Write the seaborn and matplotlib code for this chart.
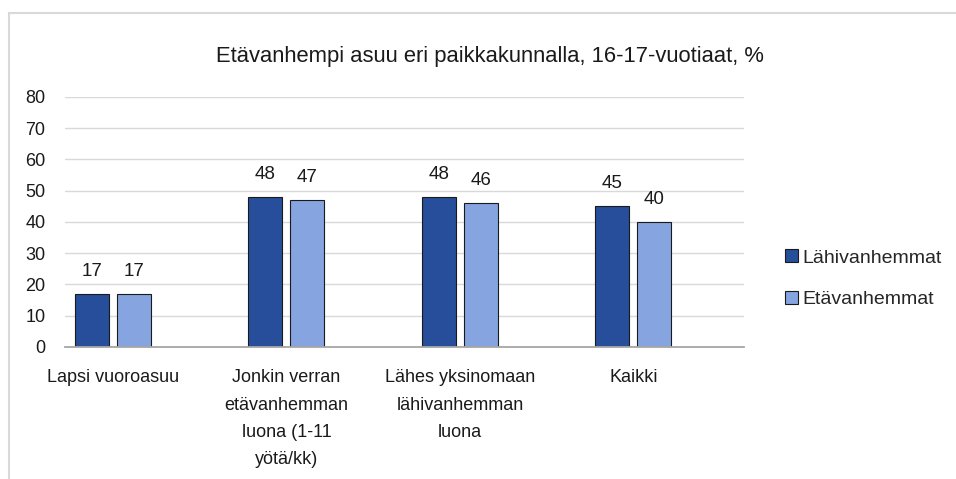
import matplotlib
matplotlib.use("Agg")
import matplotlib.pyplot as plt
from matplotlib.patches import Patch
from matplotlib.lines import Line2D
import seaborn as sns
import pandas as pd

categories = [
    "Lapsi vuoroasuu",
    "Jonkin verran\netävanhemman\nluona (1-11\nyötä/kk)",
    "Lähes yksinomaan\nlähivanhemman\nluona",
    "Kaikki",
]
lahivanhemmat = [17, 48, 48, 45]
etavanhemmat = [17, 47, 46, 40]
series_names = ["Lähivanhemmat", "Etävanhemmat"]
y_ticks = [0, 10, 20, 30, 40, 50, 60, 70, 80]
title = "Etävanhempi asuu eri paikkakunnalla, 16-17-vuotiaat, %"

colors = ["#264E9A", "#86A4DF"]

df = pd.DataFrame({"kategoria": categories,
                   series_names[0]: lahivanhemmat,
                   series_names[1]: etavanhemmat})
long_df = df.melt(id_vars="kategoria", var_name="sarja", value_name="arvo")

sns.set_style("white")
plt.rcParams["font.family"] = ["Liberation Sans", "DejaVu Sans"]

fig = plt.figure(figsize=(9.56, 4.79), dpi=100)
ax = fig.add_axes([0.068, 0.2756, 0.71, 0.522])

sns.barplot(data=long_df, x="kategoria", y="arvo", hue="sarja",
            order=categories, hue_order=series_names, palette=colors,
            saturation=1, width=0.484, gap=0.19, edgecolor="#1a1a1a",
            linewidth=0.8, errorbar=None, legend=False, ax=ax)

for cont in ax.containers:
    ax.bar_label(cont, fmt="%d", padding=10, fontsize=13.5, color="#1a1a1a")

ax.set_ylim(0, 80)
ax.set_xlim(-0.277, 3.637)
ax.set_yticks(y_ticks)
ax.yaxis.grid(True, color="#D9D9D9", linewidth=1)
ax.set_axisbelow(True)
for s in ["top", "right", "left"]:
    ax.spines[s].set_visible(False)
ax.spines["bottom"].set_color("#A6A6A6")
ax.spines["bottom"].set_linewidth(1.3)
ax.set_xlabel("")
ax.set_ylabel("")
ax.tick_params(axis="both", length=0, labelsize=13, colors="#1a1a1a")
ax.tick_params(axis="y", pad=14)
ax.tick_params(axis="x", pad=16)
for lbl in ax.get_xticklabels():
    lbl.set_linespacing(1.8)

fig.text(0.513, 0.882, title, ha="center", va="center", fontsize=15.8, color="#1a1a1a")

handles = [Patch(facecolor=c, edgecolor="#1a1a1a", linewidth=0.8) for c in colors]
fig.legend(handles, series_names, loc="center left", bbox_to_anchor=(0.821, 0.418),
           frameon=False, fontsize=14, handlelength=0.65, handleheight=0.65,
           handletextpad=0.25, labelspacing=1.25, borderpad=0, borderaxespad=0)

# outer chart border
border = "#D9D9D9"
fig.add_artist(Line2D([0.0094, 1.0], [0.973, 0.973], color=border, linewidth=1.5))
fig.add_artist(Line2D([0.0094, 0.0094], [0.0, 0.973], color=border, linewidth=1.5))

fig.savefig("out.png", dpi=100)
